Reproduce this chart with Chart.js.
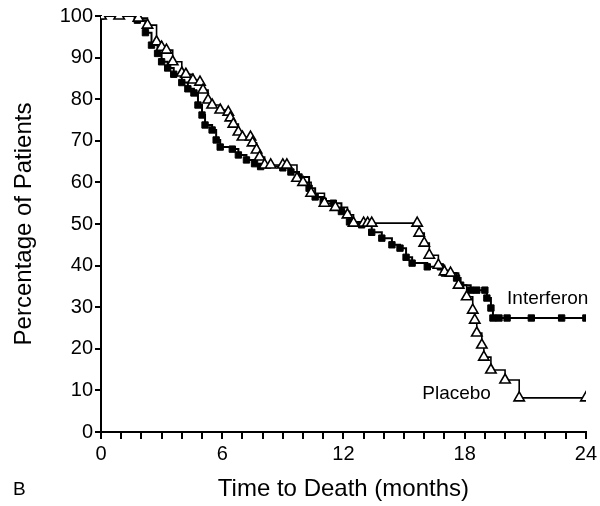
<!DOCTYPE html>
<html>
<head>
<meta charset="utf-8">
<script src="https://cdn.jsdelivr.net/npm/chart.js@4.4.0/dist/chart.umd.min.js"></script>
<style>
  html, body { margin: 0; padding: 0; background: #fff; }
  #wrap { width: 600px; height: 506px; }
</style>
</head>
<body>
<div id="wrap"><canvas id="km"></canvas></div>
<script>
// Kaplan-Meier curves (months, % of patients)
const interferonMonths = [0, 1.8, 2.2, 2.5, 2.8, 3.0, 3.3, 3.6, 4.0, 4.3, 4.6, 4.8, 5.0, 5.15, 5.5, 5.7, 5.9, 6.5, 6.8, 7.2, 7.6, 7.9, 9.0, 9.4, 9.8, 10.3, 10.6, 11.0, 11.5, 11.9, 12.3, 12.9, 13.4, 13.9, 14.4, 14.8, 15.1, 15.4, 16.15, 16.8, 17.0, 17.6, 17.8, 18.3, 18.6, 19.0, 19.1, 19.3, 19.4, 19.7, 20.1, 21.3, 22.8, 24];
const interferonPct    = [100, 99, 96, 93, 91, 89, 87.5, 86, 84, 82.5, 81.5, 78.6, 76.2, 73.8, 72.6, 70.2, 68.5, 68, 66.6, 65.4, 64.5, 63.8, 63.5, 62.5, 61.3, 58.6, 56.5, 55.5, 55, 53, 50.5, 49.8, 48, 46.6, 45, 44.2, 42, 40.6, 39.7, 39.7, 38.2, 37, 35.3, 34.1, 34.1, 34.1, 32.2, 29.8, 27.4, 27.4, 27.4, 27.4, 27.4, 27.4];

const placeboMonths = [0, 0.9, 1.85, 2.3, 2.75, 3.0, 3.24, 3.55, 4.0, 4.2, 4.55, 4.9, 5.05, 5.3, 5.5, 5.9, 6.3, 6.4, 6.55, 6.8, 7.0, 7.4, 7.5, 7.7, 7.85, 8.1, 8.4, 9.0, 9.2, 9.7, 10.0, 10.4, 11.06, 11.6, 12.2, 12.5, 13.0, 13.2, 13.4, 15.65, 15.75, 16.0, 16.25, 16.7, 17.0, 17.3, 17.7, 18.1, 18.4, 18.5, 18.6, 18.85, 18.95, 19.3, 20.0, 20.7, 24];
const placeboPct    = [100, 100, 99.5, 97.8, 93.8, 92.5, 91.8, 89, 86.3, 86, 84.6, 84.1, 82.2, 79.8, 78.6, 77.4, 76.9, 75.5, 74, 72.1, 70.9, 70.9, 69.5, 67.8, 66.1, 64.2, 64.2, 64.2, 64.2, 61, 60, 57.4, 55, 54, 52.2, 50.2, 50.2, 50.2, 50.2, 50.2, 47.8, 45.4, 42.5, 40.1, 38.5, 38.2, 35.3, 32.5, 29.3, 26.9, 23.8, 20.9, 18, 14.9, 12.5, 8.2, 8.2];

const xMajor = [0, 6, 12, 18, 24];

const FONT = "'Liberation Sans', Arial, sans-serif";

function pts(xs, ys) {
  return xs.map((x, i) => ({ x: x, y: ys[i] }));
}

// curve labels and the panel letter
const labelsPlugin = {
  id: 'labels',
  afterDraw(chart) {
    const { ctx, scales: { x, y } } = chart;
    ctx.save();
    ctx.fillStyle = '#000';
    ctx.font = '19px ' + FONT;
    ctx.textBaseline = 'middle';
    ctx.textAlign = 'left';
    ctx.fillText('Interferon', x.getPixelForValue(20.1), y.getPixelForValue(32));
    ctx.textAlign = 'right';
    ctx.fillText('Placebo', x.getPixelForValue(19.3), y.getPixelForValue(9.3));
    ctx.textAlign = 'left';
    ctx.font = '19px ' + FONT;
    ctx.fillText('B', 13, 490);
    ctx.restore();
  }
};

new Chart(document.getElementById('km'), {
  type: 'scatter',
  data: {
    datasets: [
      {
        label: 'Placebo',
        data: pts(placeboMonths, placeboPct),
        showLine: true,
        stepped: true,
        borderColor: '#000',
        borderWidth: 1.6,
        pointStyle: 'triangle',
        pointRadius: 6,
        pointBackgroundColor: '#fff',
        pointBorderColor: '#000',
        pointBorderWidth: 1.6
      },
      {
        label: 'Interferon',
        data: pts(interferonMonths, interferonPct),
        showLine: true,
        stepped: true,
        borderColor: '#000',
        borderWidth: 2,
        pointStyle: 'rect',
        pointRadius: 4.5,
        pointBackgroundColor: '#000',
        pointBorderColor: '#000',
        pointBorderWidth: 1
      }
    ]
  },
  options: {
    responsive: true,
    maintainAspectRatio: false,
    animation: false,
    layout: { padding: { top: 16, right: 13, left: 0, bottom: 0 } },
    plugins: { legend: { display: false }, tooltip: { enabled: false } },
    scales: {
      x: {
        type: 'linear',
        min: 0, max: 24,
        afterFit(s) { s.height = 74; },
        border: { color: '#000', width: 2 },
        grid: { drawOnChartArea: false, drawTicks: true, tickLength: 7, color: '#000', lineWidth: 2 },
        ticks: {
          stepSize: 1,
          autoSkip: false,
          maxRotation: 0,
          color: '#000',
          font: { family: FONT, size: 20 },
          padding: 3,
          callback: v => xMajor.includes(v) ? String(v) : ''
        },
        title: {
          display: true,
          text: 'Time to Death (months)',
          color: '#000',
          font: { family: FONT, size: 24 },
          padding: { top: 4, bottom: 2 }
        }
      },
      y: {
        min: 0, max: 100,
        afterFit(s) { s.width = 101; },
        border: { color: '#000', width: 2 },
        grid: { drawOnChartArea: false, drawTicks: true, tickLength: 6, color: '#000', lineWidth: 2 },
        ticks: {
          stepSize: 10,
          color: '#000',
          font: { family: FONT, size: 20 },
          padding: 2
        },
        title: {
          display: true,
          text: 'Percentage of Patients',
          color: '#000',
          font: { family: FONT, size: 24 },
          padding: { top: 10, bottom: 4 }
        }
      }
    }
  },
  plugins: [labelsPlugin]
});
</script>
</body>
</html>
